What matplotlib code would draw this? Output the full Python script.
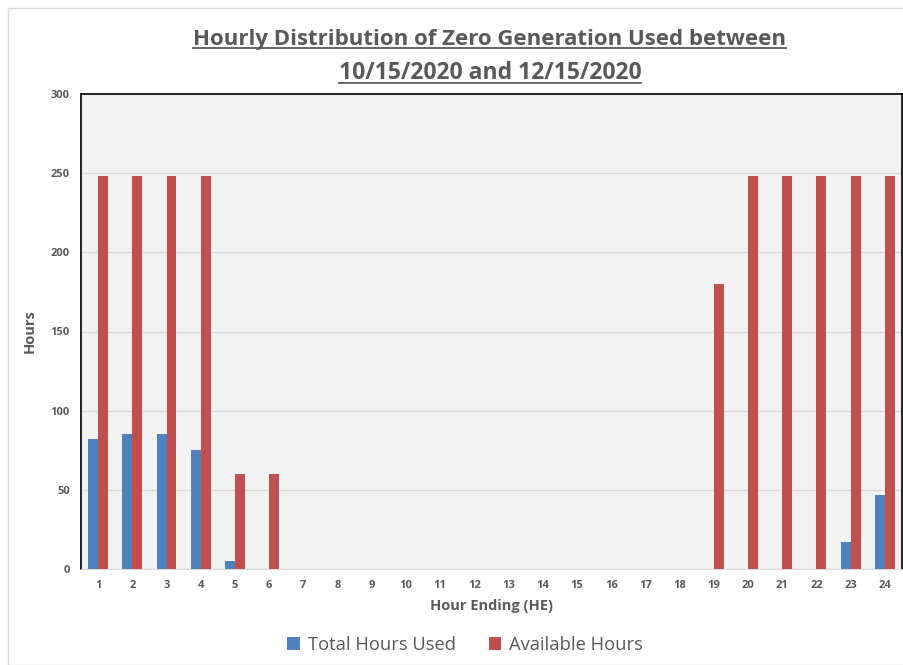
import numpy as np
import matplotlib.pyplot as plt
from matplotlib.lines import Line2D
from matplotlib.patches import Rectangle

# Chart data
hours = [str(h) for h in range(1, 25)]
total_used = [82, 85, 85, 75, 5, 0, 0, 0, 0, 0, 0, 0,
              0, 0, 0, 0, 0, 0, 0, 0, 0, 0, 17, 47]
available = [248, 248, 248, 248, 60, 60, 0, 0, 0, 0, 0, 0,
             0, 0, 0, 0, 0, 0, 180, 248, 248, 248, 248, 248]

BLUE = "#4F81BD"
RED = "#C0504D"
GREY_TEXT = "#595959"

plt.rcParams["font.family"] = ["Open Sans", "DejaVu Sans"]

fig = plt.figure(figsize=(9.04, 6.65), dpi=100)
ax = fig.add_axes([81 / 904, 1 - 569 / 665, 821 / 904, 475 / 665])

x = np.arange(len(hours))
w = 0.29
ax.bar(x - w / 2, total_used, width=w, color=BLUE, label="Total Hours Used", zorder=3)
ax.bar(x + w / 2, available, width=w, color=RED, label="Available Hours", zorder=3)

ax.set_facecolor("#F2F2F2")
ax.set_xlim(-0.5, len(hours) - 0.5)
ax.set_ylim(0, 300)
ax.set_yticks(range(0, 301, 50))
ax.set_xticks(x)
ax.set_xticklabels(hours)
ax.yaxis.grid(True, color="#D9D9D9", linewidth=1, zorder=0)
ax.tick_params(length=0, labelsize=8, colors=GREY_TEXT, pad=8)
for lbl in ax.get_xticklabels() + ax.get_yticklabels():
    lbl.set_fontweight("bold")
for side in ["left", "right", "top"]:
    ax.spines[side].set_color("black")
    ax.spines[side].set_linewidth(1.2)
ax.spines["bottom"].set_color("#D9D9D9")

ax.set_xlabel("Hour Ending (HE)", fontsize=10.5, fontweight="bold", color=GREY_TEXT, labelpad=6)
ax.set_ylabel("Hours", fontsize=10.5, fontweight="bold", color=GREY_TEXT, labelpad=10)

fig.legend(loc="center", bbox_to_anchor=(465 / 904, 1 - 645 / 665), ncol=2, frameon=False,
           fontsize=13.2, labelcolor=GREY_TEXT, handlelength=0.7, handleheight=0.7,
           columnspacing=1.8, handletextpad=0.4)

# title with underline
t1 = fig.text(0.542, 1 - 40 / 665, "Hourly Distribution of Zero Generation Used between",
              ha="center", va="center", fontsize=16, fontweight="bold", color=GREY_TEXT)
t2 = fig.text(0.542, 1 - 73 / 665, "10/15/2020 and 12/15/2020",
              ha="center", va="center", fontsize=16.5, fontweight="bold", color=GREY_TEXT)
fig.canvas.draw()
renderer = fig.canvas.get_renderer()
for t in (t1, t2):
    bb = t.get_window_extent(renderer).transformed(fig.transFigure.inverted())
    y = bb.y0 + 0.1 * bb.height
    fig.add_artist(Line2D([bb.x0, bb.x1], [y, y], transform=fig.transFigure,
                          color=GREY_TEXT, linewidth=1.3))

# outer chart border
fig.add_artist(Rectangle((8 / 904, 0), 1, 1 - 8 / 665, transform=fig.transFigure,
                         fill=False, edgecolor="#D9D9D9", linewidth=1))

fig.savefig("out.png", dpi=100)
